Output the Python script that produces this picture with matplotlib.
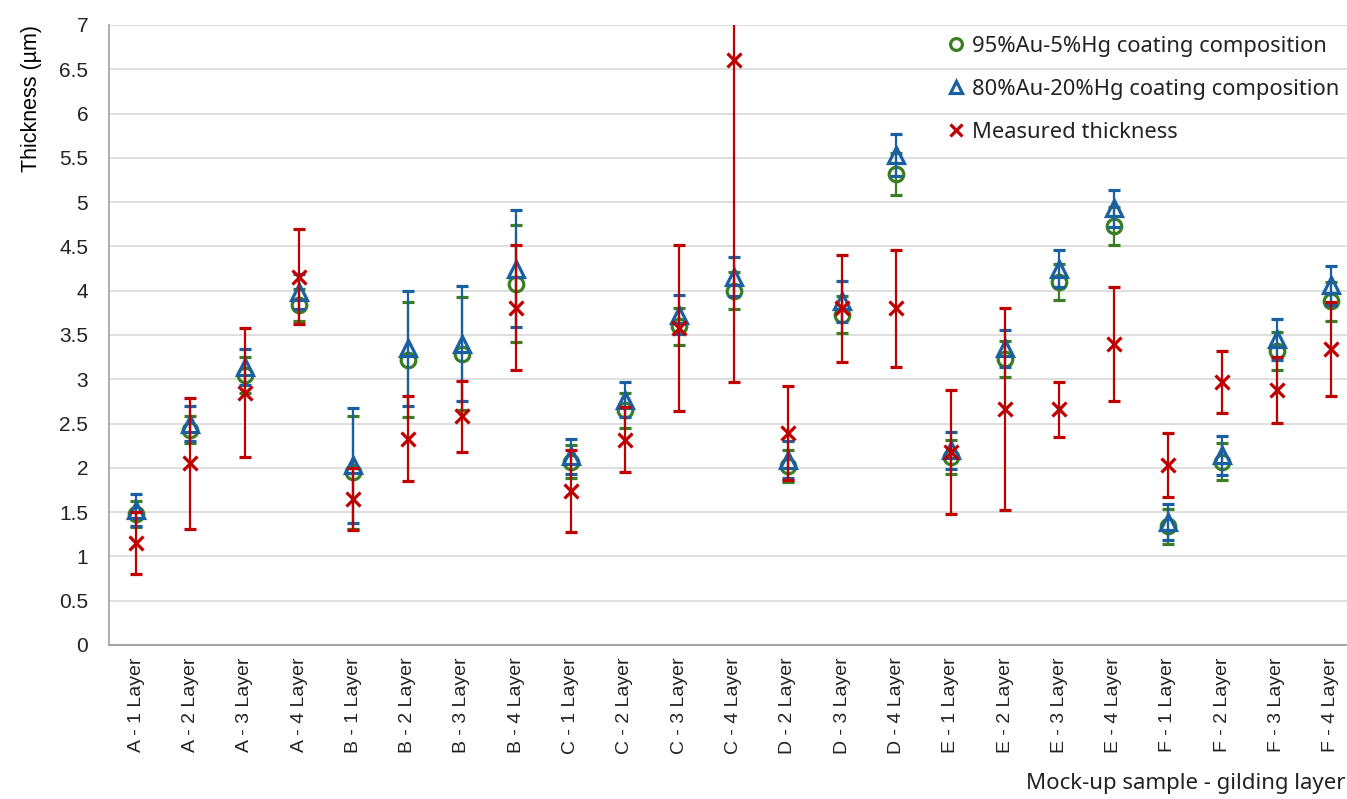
import numpy as np
import matplotlib
matplotlib.use("Agg")
import matplotlib.pyplot as plt
from matplotlib.lines import Line2D

# categories (no D - 1 sample)
samples = ["A - 1 Layer", "A - 2 Layer", "A - 3 Layer", "A - 4 Layer",
           "B - 1 Layer", "B - 2 Layer", "B - 3 Layer", "B - 4 Layer",
           "C - 1 Layer", "C - 2 Layer", "C - 3 Layer", "C - 4 Layer",
           "D - 2 Layer", "D - 3 Layer", "D - 4 Layer",
           "E - 1 Layer", "E - 2 Layer", "E - 3 Layer", "E - 4 Layer",
           "F - 1 Layer", "F - 2 Layer", "F - 3 Layer", "F - 4 Layer"]

au95 = [1.48, 2.43, 3.05, 3.84, 1.95, 3.22, 3.29, 4.08, 2.07, 2.65, 3.60, 4.00,
        2.02, 3.73, 5.32, 2.12, 3.23, 4.10, 4.73, 1.34, 2.07, 3.32, 3.88]
au95_err = [0.15, 0.15, 0.20, 0.18, 0.64, 0.65, 0.64, 0.66, 0.19, 0.20, 0.21, 0.21,
            0.18, 0.21, 0.24, 0.19, 0.20, 0.20, 0.21, 0.20, 0.21, 0.21, 0.22]

au80 = [1.52, 2.50, 3.14, 3.99, 2.03, 3.35, 3.40, 4.25, 2.13, 2.77, 3.73, 4.16,
        2.09, 3.88, 5.53, 2.20, 3.35, 4.25, 4.93, 1.39, 2.14, 3.45, 4.06]
au80_err = [0.18, 0.20, 0.20, 0.20, 0.65, 0.65, 0.65, 0.66, 0.20, 0.20, 0.22, 0.22,
            0.21, 0.23, 0.24, 0.21, 0.21, 0.21, 0.21, 0.20, 0.22, 0.23, 0.22]

measured = [1.15, 2.05, 2.85, 4.16, 1.65, 2.33, 2.58, 3.81, 1.74, 2.32, 3.58, 6.60,
            2.39, 3.80, 3.80, 2.18, 2.66, 2.66, 3.40, 2.03, 2.97, 2.88, 3.34]
measured_err = [0.35, 0.74, 0.73, 0.54, 0.35, 0.48, 0.40, 0.71, 0.46, 0.37, 0.94, 3.63,
                0.53, 0.60, 0.66, 0.70, 1.14, 0.31, 0.64, 0.36, 0.35, 0.37, 0.53]

green = "#3A7D22"
blue = "#1B5FA3"
red = "#C00000"

x = np.arange(len(samples))

fig = plt.figure(figsize=(13.47, 7.99), dpi=100)
ax = fig.add_axes([109 / 1347, 1 - 645 / 799, 1249 / 1347, 620 / 799])

ax.errorbar(x, au95, yerr=au95_err, fmt="o", color=green, mfc="none", mec=green,
            ms=10.5, mew=2.3, elinewidth=1.6, capsize=4.5, capthick=1.6, zorder=3)
ax.errorbar(x, au80, yerr=au80_err, fmt="^", color=blue, mfc="none", mec=blue,
            ms=11, mew=2.3, elinewidth=1.6, capsize=4.5, capthick=1.6, zorder=4)
ax.errorbar(x, measured, yerr=measured_err, fmt="x", color=red, mec=red,
            ms=10.5, mew=2.3, elinewidth=1.6, capsize=4.5, capthick=1.6, zorder=5)

ax.set_xlim(-0.5, len(samples) - 0.5)
ax.set_ylim(0, 7)
ax.set_yticks(np.arange(0, 7.01, 0.5))
ax.set_yticklabels(["0", "0.5", "1", "1.5", "2", "2.5", "3", "3.5", "4",
                    "4.5", "5", "5.5", "6", "6.5", "7"])
ax.set_xticks(x)
ax.set_xticklabels(samples, rotation=90, fontsize=14, family="Liberation Sans")
for lab in ax.get_yticklabels():
    lab.set_fontsize(15)
    lab.set_family("Liberation Sans")
ax.tick_params(axis="both", length=0, colors="#222222")
ax.tick_params(axis="y", pad=15)
ax.tick_params(axis="x", pad=9)
ax.grid(axis="y", color="#d9d9d9", linewidth=1.2, zorder=0)
ax.set_axisbelow(True)
for s in ["top", "right"]:
    ax.spines[s].set_visible(False)
ax.spines["left"].set_color("#a6a6a6")
ax.spines["bottom"].set_color("#a6a6a6")
ax.spines["left"].set_linewidth(1.3)
ax.spines["bottom"].set_linewidth(1.5)

ax.set_ylabel("Thickness (µm)", fontsize=15.5, family="Liberation Sans", loc="top",
              labelpad=12)
fig.text(1345 / 1347, 1 - 784 / 799, "Mock-up sample - gilding layer", ha="right",
         va="center", fontsize=16, family="Noto Sans", color="#222222")

handles = [
    Line2D([], [], ls="none", marker="o", mfc="none", mec=green, mew=2.3, ms=8.5),
    Line2D([], [], ls="none", marker="^", mfc="none", mec=blue, mew=2.3, ms=8.5),
    Line2D([], [], ls="none", marker="x", mec=red, mew=2.3, ms=8.5),
]
labels = ["95%Au-5%Hg coating composition", "80%Au-20%Hg coating composition",
          "Measured thickness"]
fig.legend(handles, labels, loc="upper left", bbox_to_anchor=(936 / 1347, 1 - 25 / 799),
           frameon=False, prop={"family": "Noto Sans", "size": 15.8},
           handlelength=0.8, handletextpad=0.35, labelspacing=1.0, borderpad=0,
           labelcolor="#222222")

fig.savefig("out.png", dpi=100)
